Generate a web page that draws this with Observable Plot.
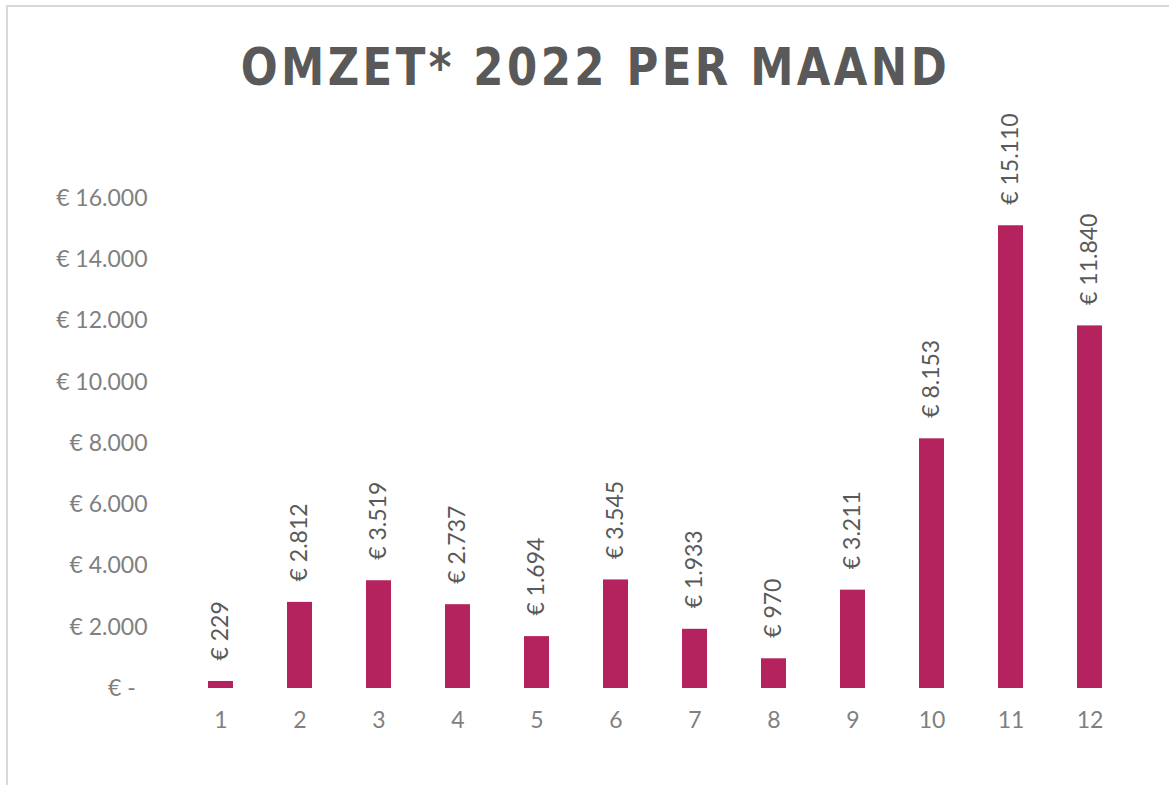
<!DOCTYPE html>
<html>
<head>
<meta charset="utf-8">
<script src="https://cdn.jsdelivr.net/npm/d3@7"></script>
<script src="https://cdn.jsdelivr.net/npm/@observablehq/plot@0.6"></script>
<style>
  html, body { margin: 0; padding: 0; width: 1169px; height: 785px; overflow: hidden; background: #fff; }
  #frame { position: absolute; left: 6px; top: 5px; width: 1400px; height: 1000px; border: 2px solid #d9d9d9; box-sizing: border-box; }
  #titlewrap { position: absolute; left: 0; top: 42px; width: 1190px; text-align: center; }
  #title { display: inline-block; font-family: "DejaVu Sans", sans-serif; font-weight: bold; font-size: 51px; line-height: 51px; color: #595959; letter-spacing: 4px; white-space: nowrap; transform-origin: center; }
  #chart { position: absolute; left: 0; top: 110px; }
</style>
</head>
<body>
<div id="frame"></div>
<div id="titlewrap"><span id="title">OMZET* 2022 PER MAAND</span></div>
<div id="chart"></div>
<script>
const titleText = "OMZET* 2022 PER MAAND";
const months = [1, 2, 3, 4, 5, 6, 7, 8, 9, 10, 11, 12];
const omzet = [229, 2812, 3519, 2737, 1694, 3545, 1933, 970, 3211, 8153, 15110, 11840];
const yTicks = [0, 2000, 4000, 6000, 8000, 10000, 12000, 14000, 16000];

const data = months.map((m, i) => ({month: m, value: omzet[i]}));

const loc = d3.formatLocale({decimal: ",", thousands: ".", grouping: [3], currency: ["€ ", ""]});
const num = loc.format(",.0f");
const euro = d => d === 0 ? "€ -\u00a0\u00a0" : "€ " + num(d);

const title = document.getElementById("title");
title.textContent = titleText;
const w = title.getBoundingClientRect().width - 4;
title.style.transform = `scaleX(${706 / w})`;

const chart = Plot.plot({
  width: 1169,
  height: 675,
  marginLeft: 179,
  marginRight: 39,
  marginTop: 88,
  marginBottom: 97,
  style: {fontFamily: "Lato, 'Open Sans', sans-serif", fontSize: "23px", color: "#808080", background: "transparent"},
  x: {domain: months, paddingInner: 0.684, paddingOuter: 0.342, tickSize: 0, tickPadding: 23, label: null},
  y: {domain: [0, 16000], ticks: yTicks, tickFormat: euro, tickSize: 0, tickPadding: 32, label: null},
  marks: [
    Plot.barY(data, {x: "month", y: "value", fill: "#b4235e"}),
    Plot.text(data, {x: "month", y: "value", text: d => euro(d.value), rotate: -90, textAnchor: "start", dy: -21, fill: "#595959", fontSize: 23})
  ]
});
document.getElementById("chart").appendChild(chart);
</script>
</body>
</html>
